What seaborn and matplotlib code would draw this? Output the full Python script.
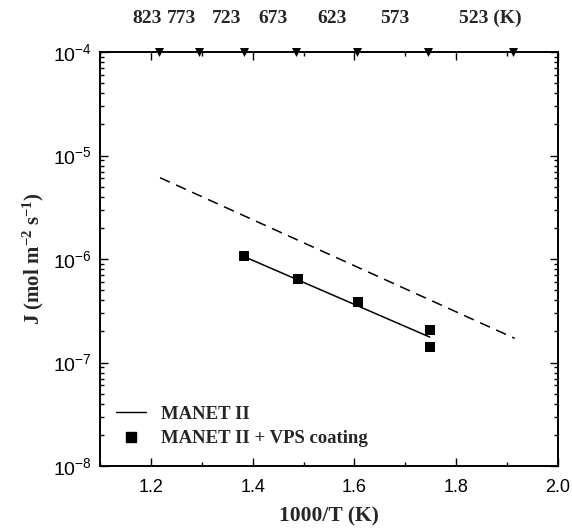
import numpy as np
import pandas as pd
import matplotlib
matplotlib.use("Agg")
import matplotlib.pyplot as plt
from matplotlib.lines import Line2D
from matplotlib.ticker import LogLocator, MultipleLocator, FixedLocator, NullFormatter
import matplotlib.transforms as mtransforms
import seaborn as sns

# ---- data ----
coat_x = [1.383, 1.489, 1.607, 1.748, 1.748]
coat_y = [1.07e-6, 6.4e-7, 3.8e-7, 2.06e-7, 1.42e-7]

fit_x = [1.388, 1.748]
fit_y = [1.03e-6, 1.76e-7]

manet_x = [1.218, 1.915]
manet_y = [6.1e-6, 1.71e-7]

top_T = [823, 773, 723, 673, 623, 573, 523]
top_labels = ["823", "773", "723", "673", "623", "573", "523 (K)"]
# label left-edge positions (x data units) as hand-placed in the original
top_label_x = [1.163, 1.232, 1.319, 1.411, 1.527, 1.651, 1.805]

x_ticks = [1.2, 1.4, 1.6, 1.8, 2.0]
x_ticklabels = ["1.2", "1.4", "1.6", "1.8", "2.0"]
y_ticks = [1e-8, 1e-7, 1e-6, 1e-5, 1e-4]
y_ticklabels = [r"$\mathregular{10^{-8}}$", r"$\mathregular{10^{-7}}$",
                r"$\mathregular{10^{-6}}$", r"$\mathregular{10^{-5}}$",
                r"$\mathregular{10^{-4}}$"]

sns.set_theme(style="ticks")
plt.rcParams["font.family"] = ["Liberation Sans", "DejaVu Sans"]

SERIF = ["Liberation Serif", "DejaVu Serif"]

fig = plt.figure(figsize=(5.72, 5.32), dpi=100)
ax = fig.add_axes([100 / 572, 1 - 466 / 532, 458 / 572, 414 / 532])

coat_df = pd.DataFrame({"x": coat_x, "y": coat_y})
fit_df = pd.DataFrame({"x": fit_x, "y": fit_y})
manet_df = pd.DataFrame({"x": manet_x, "y": manet_y})
top_df = pd.DataFrame({"x": [1000.0 / t for t in top_T], "y": [1e-4] * len(top_T)})

sns.lineplot(data=manet_df, x="x", y="y", ax=ax, color="black", lw=1.1,
             linestyle=(0, (7, 4.5)), legend=False)
sns.lineplot(data=fit_df, x="x", y="y", ax=ax, color="black", lw=1.1, legend=False)
sns.scatterplot(data=coat_df, x="x", y="y", ax=ax, marker="s", s=55,
                color="black", edgecolor="black", linewidth=0, legend=False, zorder=5)
sns.scatterplot(data=top_df, x="x", y="y", ax=ax, marker="v", s=42,
                color="black", edgecolor="black", linewidth=0, legend=False,
                zorder=6, clip_on=False)

ax.set_yscale("log")
ax.set_xlim(1.1, 2.0)
ax.set_ylim(1e-8, 1e-4)

ax.xaxis.set_major_locator(FixedLocator(x_ticks))
ax.set_xticklabels(x_ticklabels)
ax.xaxis.set_minor_locator(MultipleLocator(0.1))
ax.yaxis.set_major_locator(FixedLocator(y_ticks))
ax.set_yticklabels(y_ticklabels)
ax.yaxis.set_minor_locator(LogLocator(base=10, subs=np.arange(2, 10)))
ax.yaxis.set_minor_formatter(NullFormatter())

ax.tick_params(which="both", direction="in", top=True, right=True,
               labeltop=False, labelright=False, color="black", width=1.0)
ax.tick_params(which="major", length=6)
ax.tick_params(which="minor", length=3)
ax.tick_params(axis="x", which="major", labelsize=13, pad=9, labelcolor="black")
ax.tick_params(axis="y", which="major", labelsize=14, pad=6, labelcolor="black")
for sp in ax.spines.values():
    sp.set_linewidth(1.4)
    sp.set_color("black")

ax.set_xlabel("1000/T (K)", fontfamily=SERIF, fontweight="bold", fontsize=15.5,
              labelpad=8)
ax.set_ylabel(r"J (mol m$\mathregular{^{-2}}$ s$\mathregular{^{-1}}$)",
              fontfamily=SERIF, fontweight="bold", fontsize=15, labelpad=5)

trans = mtransforms.blended_transform_factory(ax.transData, ax.transAxes)
for lx, lab in zip(top_label_x, top_labels):
    ax.text(lx, 1.082, lab, transform=trans, ha="left", va="center",
            fontfamily=SERIF, fontweight="bold", fontsize=14)

handles = [
    Line2D([], [], color="black", lw=1.0),
    Line2D([], [], color="black", marker="s", linestyle="none", markersize=7),
]
leg = ax.legend(handles, ["MANET II", "MANET II + VPS coating"],
                loc="lower left", bbox_to_anchor=(0.035, 0.045), frameon=False,
                handlelength=1.6, handletextpad=0.8, labelspacing=0.4,
                borderpad=0, borderaxespad=0,
                prop={"family": SERIF, "weight": "bold", "size": 13.5})

fig.savefig("out.png", dpi=100)
